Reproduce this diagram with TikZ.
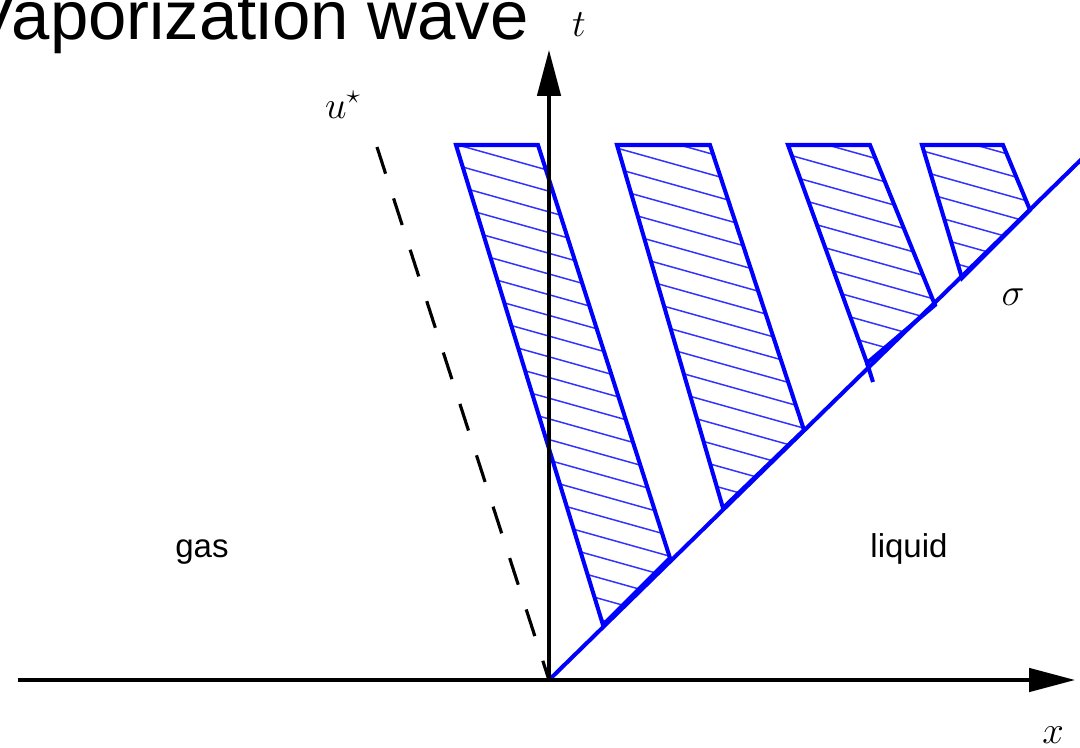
\RequirePackage{fix-cm}
\documentclass[tikz,border=0pt]{standalone}
\usepackage{fontspec}
\setmainfont{Liberation Sans}
\usetikzlibrary{arrows.meta}
\definecolor{wblue}{RGB}{0,0,255}
\begin{document}
\begin{tikzpicture}[x=0.02cm,y=-0.02cm,
  axis/.style={line width=1.8pt, black},
  tip/.style={-{Triangle[length=0.92cm,width=0.47cm]}},
  wave/.style={draw=wblue, line width=2.3pt, line join=miter},
  hatch/.style={wblue!80, line width=0.85pt},
  lab/.style={inner sep=0pt, anchor=base},
  mlab/.style={lab, font=\fontsize{22}{26}\selectfont},
  slab/.style={lab, font=\fontsize{18.8}{22}\selectfont}]
\useasboundingbox (0,0) rectangle (1080,748);
% axes
\coordinate (O) at (549,680);
\coordinate (xs) at (18,680);
\coordinate (xe) at (1075,680);
\coordinate (te) at (549,50);
\coordinate (us) at (377,147);
\coordinate (se) at (1085,155.8);
% quadrilaterals
\coordinate (q1a) at (456,145); \coordinate (q1b) at (538,145);
\coordinate (q1c) at (670,558); \coordinate (q1d) at (603,625);
\coordinate (q2a) at (617,145); \coordinate (q2b) at (710,145);
\coordinate (q2c) at (804,430); \coordinate (q2d) at (723,508);
\coordinate (q3a) at (788,145); \coordinate (q3b) at (870,145);
\coordinate (q3c) at (935,305); \coordinate (q3d) at (867,363);
\coordinate (q4a) at (922,145); \coordinate (q4b) at (1003,145);
\coordinate (q4c) at (1030,210); \coordinate (q4d) at (962,278);
\coordinate (q3t) at (873,382);
\foreach \q in {1,2,3,4}{
  \begin{scope}
    \clip (q\q a) -- (q\q b) -- (q\q c) -- (q\q d) -- cycle;
    \foreach \k in {-9,...,24}
      \draw[hatch] (400,{128.76+20.7*\k}) -- (1080,{319.16+20.7*\k});
  \end{scope}
  \draw[wave] (q\q a) -- (q\q b) -- (q\q c) -- (q\q d) -- cycle;
}
\draw[wave] (q3d) -- (q3t);
\draw[wave] (O) -- (se);
\draw[axis, dash pattern=on 0.56cm off 0.52cm] (us) -- (O);
\draw[axis,tip] (xs) -- (xe);
\draw[axis,tip] (O) -- (te);
% labels
\node[lab, anchor=base east, font=\fontsize{39.2}{42}\selectfont] (title) at (529,39) {Vaporization wave};
\node[mlab] (tl) at (579,36) {$t$};
\node[mlab] (xl) at (1053,743) {$x$};
\node[mlab] (ul) at (343,118) {$u^{\star}$};
\node[mlab] (sl) at (1013,305) {$\sigma$};
\node[slab] (gas) at (202,557) {gas};
\node[slab] (liq) at (909,557) {liquid};
\end{tikzpicture}
\end{document}
